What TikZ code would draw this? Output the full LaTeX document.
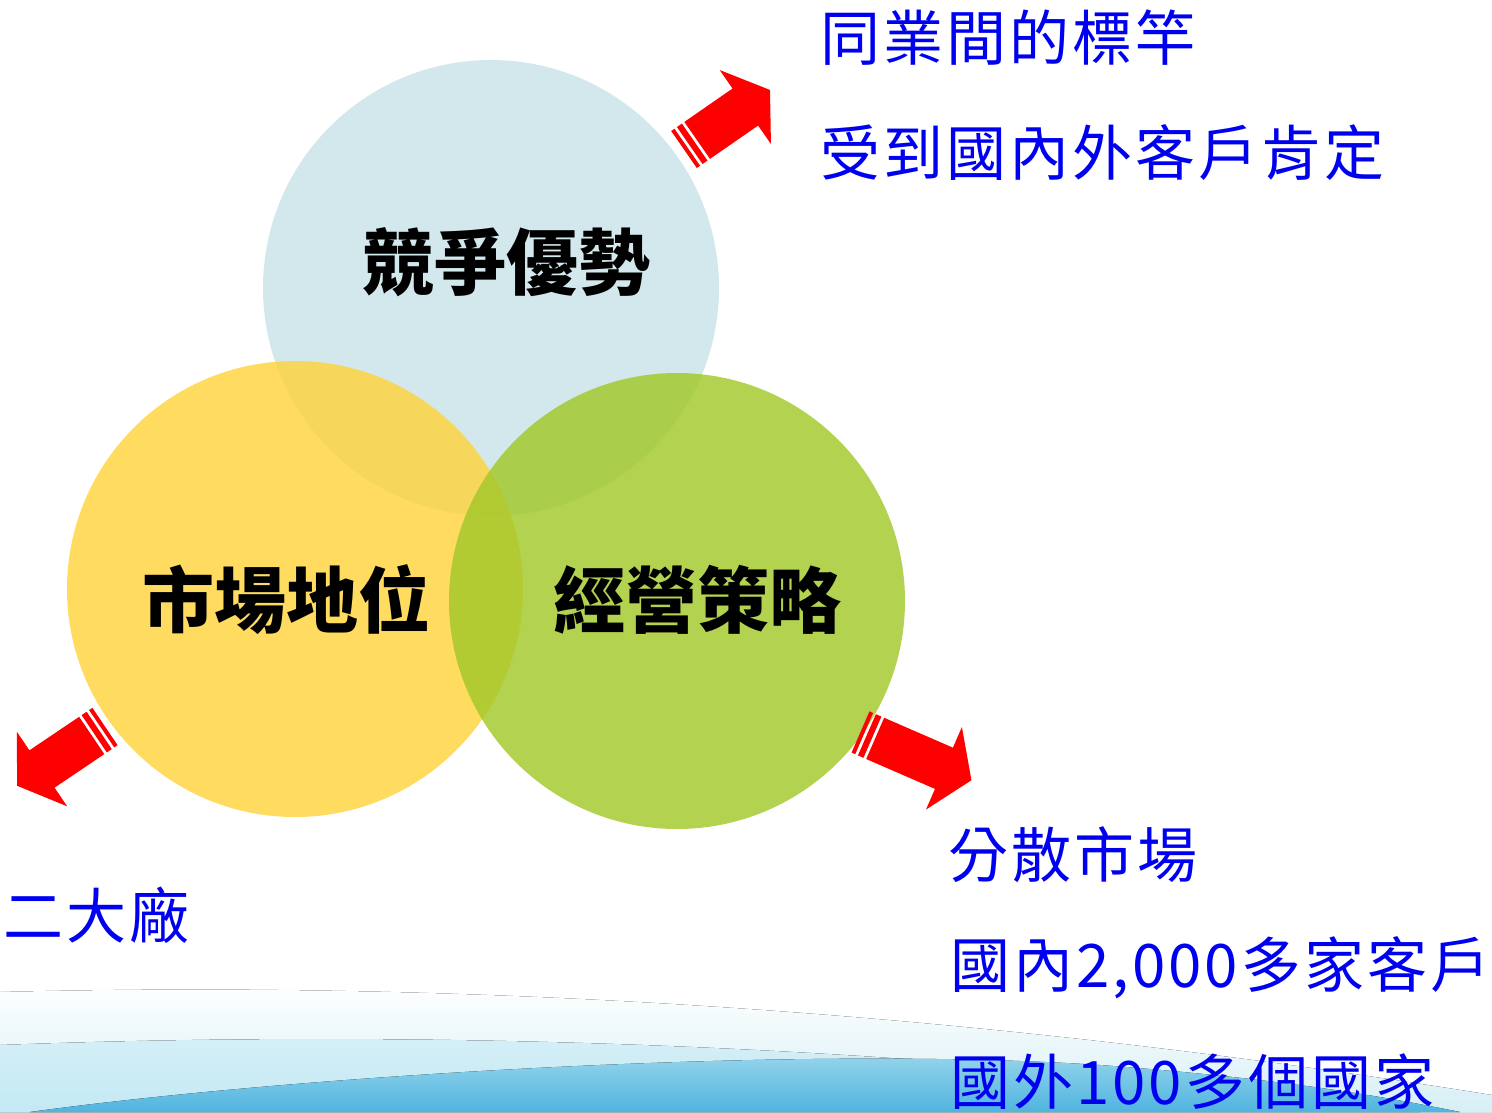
\documentclass[tikz,border=0pt]{standalone}
\usepackage{fontspec}
\newfontfamily\cjk{Noto Sans CJK TC}
\newfontfamily\cjksp{Noto Sans CJK TC}[LetterSpace=5]
\definecolor{arrowred}{HTML}{FF0000}
\definecolor{txtblue}{HTML}{0000F0}
\definecolor{cblue}{HTML}{D2E8EC}
\definecolor{cyellow}{HTML}{FFD43C}
\definecolor{cgreen}{HTML}{A2C828}
\definecolor{wave1}{HTML}{D6EFF6}
\definecolor{wave2}{HTML}{C4E9F4}
\newcommand\redstripearrow[4]{%
  \begin{scope}[shift={(#1,#2)},rotate=#3]
    \fill[arrowred] (0,-22.5) rectangle (4,22.5);
    \fill[arrowred] (7,-22.5) rectangle (13,22.5);
    \fill[arrowred] (16,-22.5) -- ({16+#4},-22.5) -- ({16+#4},-45) -- ({46+#4},0)
      -- ({16+#4},45) -- ({16+#4},22.5) -- (16,22.5) -- cycle;
  \end{scope}}
\tikzset{
  venn/.style={circle, draw=none, minimum size=456pt, inner sep=0pt},
  bigtxt/.style={font=\cjk\bfseries\fontsize{72}{80}\selectfont, text=black, inner sep=0pt},
  bluetxt/.style={font=\cjksp\fontsize{60}{66}\selectfont, text=txtblue, inner sep=0pt, anchor=west}
}
\begin{document}
\begin{tikzpicture}[x=1pt,y=-1pt]
\useasboundingbox (0,0) rectangle (1492,1112);
% bottom wave background
\fill[top color=white, bottom color=wave1, draw=none]
  (0,992) .. controls (400,982) and (900,1000) .. (1492,1095) -- (1492,1112) -- (0,1112) -- cycle;
\fill[top color=wave1, bottom color=wave2, draw=none]
  (0,1045) .. controls (400,1030) and (900,1040) .. (1420,1112) -- (0,1112) -- cycle;
\fill[top color={rgb,255:red,160;green,218;blue,238}, bottom color={rgb,255:red,80;green,180;blue,222}]
  (30,1112) .. controls (300,1075) and (800,1045) .. (1100,1065)
  .. controls (1300,1080) and (1400,1100) .. (1460,1112) -- cycle;
% circles
\node[venn, fill=cblue] (cb) at (491,288) {};
\node[venn, fill=cyellow, fill opacity=0.82] (cy) at (295,589) {};
\node[venn, fill=cgreen, fill opacity=0.82] (cg) at (677,601) {};
% circle texts
\node[bigtxt] (t1) at (506,262) {競爭優勢};
\node[bigtxt] (t2) at (286,600) {市場地位};
\node[bigtxt] (t3) at (697,600) {經營策略};
% arrows
\redstripearrow{684}{149.5}{34.7}{58.6}
\redstripearrow{105}{726.5}{214}{60}
\redstripearrow{860.5}{732}{-23.5}{75}
% blue texts
\node[bluetxt] (b1) at (820,38) {同業間的標竿};
\node[bluetxt] (b2) at (820,153) {受到國內外客戶肯定};
\node[bluetxt] (b3) at (948,855) {分散市場};
\node[bluetxt] (b4) at (950,968) {國內2,000多家客戶};
\node[bluetxt] (b5) at (950,1082) {國外100多個國家};
\node[bluetxt] (b6) at (3,915) {二大廠};
\end{tikzpicture}
\end{document}
